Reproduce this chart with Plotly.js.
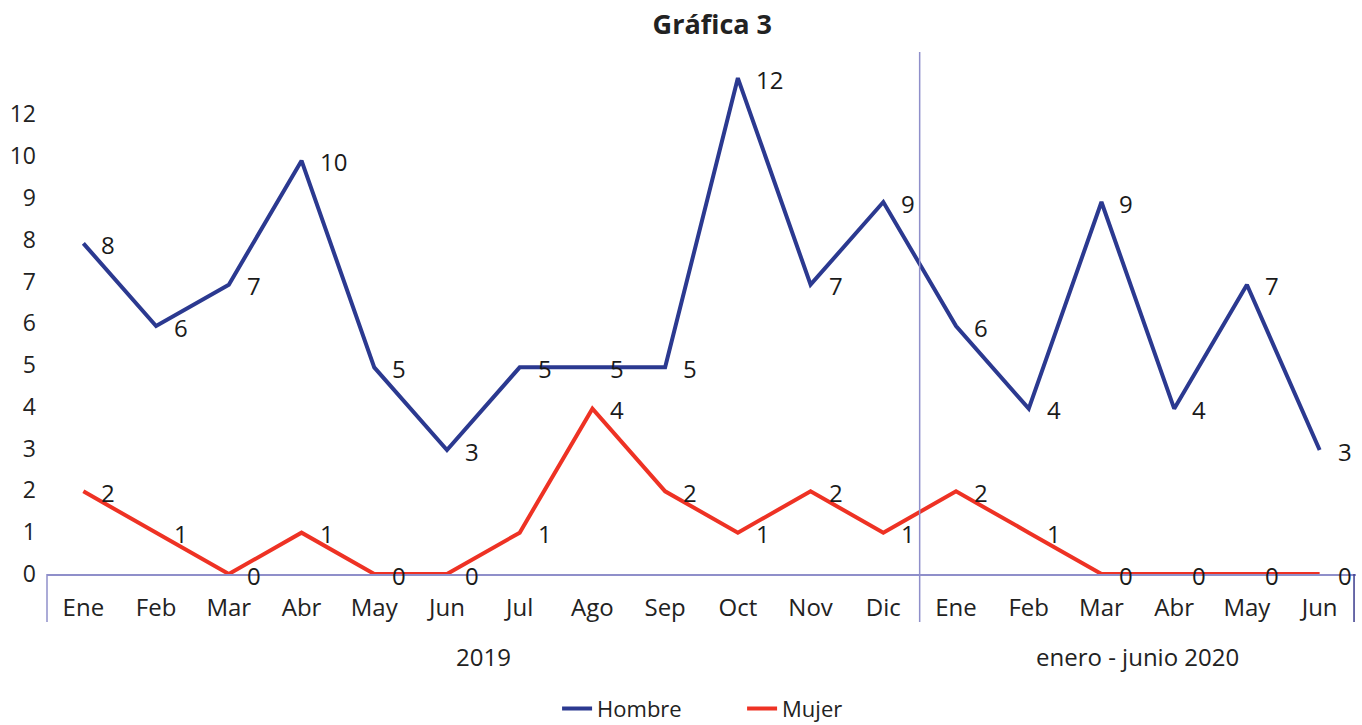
<!DOCTYPE html>
<html>
<head>
<meta charset="utf-8">
<script src="https://cdn.plot.ly/plotly-3.0.1.min.js"></script>
<style>html,body{margin:0;padding:0;background:#fff;}#chart{width:1362px;height:725px;}</style>
</head>
<body>
<div id="chart"></div>
<script>
const months = ['Ene','Feb','Mar','Abr','May','Jun','Jul','Ago','Sep','Oct','Nov','Dic','Ene','Feb','Mar','Abr','May','Jun'];
const groupLabels = ['2019', 'enero - junio 2020'];
const groupCenters = [5.5, 14.5];
const hombre = [8,6,7,10,5,3,5,5,5,12,7,9,6,4,9,4,7,3];
const mujer  = [2,1,0,1,0,0,1,4,2,1,2,1,2,1,0,0,0,0];
const yTickVals = [0,1,2,3,4,5,6,7,8,9,10,11];
const yTickText = ['0','1','2','3','4','5','6','7','8','9','10','12'];

const xIdx = months.map((m, i) => i);
const FONT = '"Open Sans", "Noto Sans", sans-serif';
const axisCol = '#8f8fca';

const mk = (name, y, color) => ({
  type: 'scatter', mode: 'lines', name: name,
  x: xIdx, y: y,
  line: {color: color, width: 4},
  cliponaxis: false, hoverinfo: 'skip'
});

const data = [mk('Hombre', hombre, '#2b3990'), mk('Mujer', mujer, '#ee3224')];

const valueLabels = [];
[hombre, mujer].forEach(series => {
  series.forEach((v, i) => {
    valueLabels.push({
      text: String(v), x: xIdx[i], y: v, xref: 'x', yref: 'y',
      xanchor: 'left', yanchor: 'middle', xshift: 16, yshift: -1,
      showarrow: false, font: {family: FONT, size: 24, color: '#1a1a1a'}
    });
  });
});

const layout = {
  width: 1362, height: 725,
  margin: {l: 47, r: 6, t: 52, b: 151, autoexpand: false},
  paper_bgcolor: '#fff', plot_bgcolor: '#fff',
  font: {family: FONT, color: '#222'},
  title: {text: '<b>Gráfica 3</b>', font: {family: FONT, size: 27, color: '#222'}, x: 0.523, xanchor: 'center', y: 0.966, yanchor: 'middle'},
  showlegend: true,
  legend: {orientation: 'h', x: 0.531, xanchor: 'center', y: -0.258, yanchor: 'middle',
           font: {family: FONT, size: 22, color: '#222'}, entrywidth: 140, entrywidthmode: 'pixels', traceorder: 'normal'},
  xaxis: {range: [-0.5, 17.5], tickmode: 'array', tickvals: xIdx, ticktext: months,
          showgrid: false, zeroline: false, showline: true, linecolor: axisCol, linewidth: 1.5,
          ticks: '', ticklabelstandoff: 12, tickfont: {family: FONT, size: 24, color: '#222'}, fixedrange: true},
  yaxis: {range: [0, 12.63], showticklabels: false, showgrid: false, zeroline: false, showline: false, ticks: ''},
  yaxis2: {overlaying: 'y', side: 'left', range: [0, 12.49], tickmode: 'array', tickvals: yTickVals, ticktext: yTickText,
           showgrid: false, zeroline: false, showline: false, ticks: '', ticklabelstandoff: 10,
           tickfont: {family: FONT, size: 23, color: '#222'}},
  shapes: [
    {type: 'line', xref: 'paper', yref: 'paper', x0: 0, x1: 0, y0: 0, y1: -0.092, line: {color: axisCol, width: 1.5}},
    {type: 'line', xref: 'paper', yref: 'paper', x0: 12/18, x1: 12/18, y0: 1, y1: -0.092, line: {color: axisCol, width: 1.5}},
    {type: 'line', xref: 'paper', yref: 'paper', x0: 0.9985, x1: 0.9985, y0: 0, y1: -0.092, line: {color: '#3a3a8c', width: 1.5}}
  ],
  annotations: groupLabels.map((t, i) => ({
    text: t, x: groupCenters[i], xref: 'x', y: -0.159, yref: 'paper', yanchor: 'middle', xanchor: 'center',
    showarrow: false, font: {family: FONT, size: 24, color: '#222'}
  })).concat(valueLabels)
};

// dummy trace to activate yaxis2 for tick labels
data.push({type: 'scatter', x: [0], y: [0], yaxis: 'y2', mode: 'markers', marker: {opacity: 0}, showlegend: false, hoverinfo: 'skip'});

Plotly.newPlot('chart', data, layout, {displayModeBar: false, staticPlot: true});
</script>
</body>
</html>
